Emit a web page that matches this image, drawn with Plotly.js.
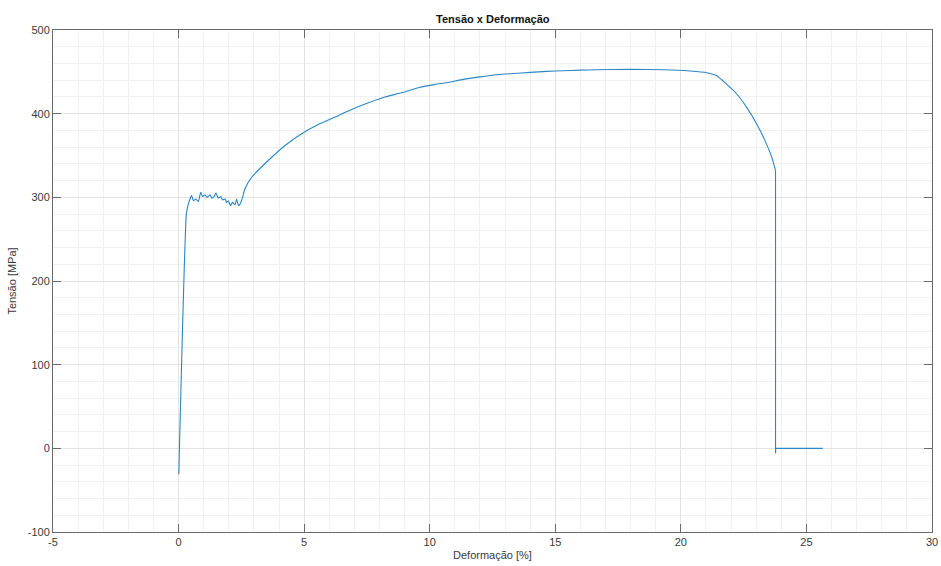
<!DOCTYPE html>
<html>
<head>
<meta charset="utf-8">
<script src="https://cdn.plot.ly/plotly-3.0.1.min.js"></script>
<style>html,body{margin:0;padding:0;background:#fff;}#chart{width:941px;height:566px;}</style>
</head>
<body>
<div id="chart"></div>
<script>
// Strain (%) and stress (MPa)
var strain = [0.01, 0.31, 0.38, 0.52, 0.59, 0.69, 0.79, 0.88, 0.96, 1.05, 1.14, 1.25, 1.33, 1.41, 1.49, 1.58, 1.68, 1.75, 1.85, 1.91, 1.98, 2.07, 2.15, 2.25, 2.31, 2.39, 2.45, 2.55, 2.64, 2.91, 3.57, 4.24, 4.90, 5.56, 6.23, 6.89, 7.56, 8.22, 8.88, 9.55, 10.21, 10.68, 11.34, 12.0, 12.67, 13.33, 14.0, 14.66, 15.32, 15.99, 16.65, 17.98, 19.3, 20.37, 21.03, 21.43, 21.83, 22.23, 22.62, 23.02, 23.35, 23.62, 23.77, 23.77, 23.78, 25.65];
var stress = [-31, 280, 291, 302, 296, 298, 295, 306, 301, 303, 300, 303, 299, 301, 305, 299, 301, 297, 298, 294, 296, 290, 294, 291, 298, 290, 292, 300, 310, 324, 344, 362, 376, 387, 396, 405, 413, 420, 425, 431, 435, 437, 441, 444, 446.6, 448, 449.3, 450.5, 451.3, 452, 452.5, 452.9, 452.5, 451, 449, 445.4, 435, 423.5, 407.5, 387.7, 367.8, 347.8, 332, -6, 0, 0];
// index where the specimen breaks (start of the vertical drop)
var breakIndex = 62;

var xTickVals = [-5, 0, 5, 10, 15, 20, 25, 30];
var xTickText = ["-5", "0", "5", "10", "15", "20", "25", "30"];
var yTickVals = [-100, 0, 100, 200, 300, 400, 500];
var yTickText = ["-100", "0", "100", "200", "300", "400", "500"];

var axisCommon = {
  showline: true, linecolor: '#6a6a6a', linewidth: 1, mirror: 'ticks',
  ticks: 'inside', ticklen: 8, tickcolor: '#6a6a6a', tickwidth: 1,
  showgrid: true, gridcolor: '#e3e3e3', gridwidth: 1,
  zeroline: false, tickmode: 'array',
  tickfont: {family: 'Liberation Sans, Arial, sans-serif', size: 11, color: '#3a3a3a'}
};

var layout = {
  width: 941, height: 566,
  margin: {l: 53, r: 9, t: 30, b: 34},
  paper_bgcolor: '#ffffff', plot_bgcolor: '#ffffff',
  showlegend: false,
  title: {text: '<b>Tensão x Deformação</b>', x: 0.5237, xanchor: 'center', y: 0.966, yanchor: 'middle',
          font: {family: 'Liberation Sans, Arial, sans-serif', size: 11, color: '#111'}},
  xaxis: Object.assign({}, axisCommon, {
    range: [-5, 30], tickvals: xTickVals, ticktext: xTickText,
    minor: {dtick: 1, showgrid: true, gridcolor: '#f1f1f1', gridwidth: 1, ticks: ''},
    title: {text: 'Deformação [%]', standoff: 4, font: {family: 'Liberation Sans, Arial, sans-serif', size: 11, color: '#3a3a3a'}}
  }),
  yaxis: Object.assign({}, axisCommon, {
    range: [-100, 500], tickvals: yTickVals, ticktext: yTickText,
    minor: {dtick: 20, showgrid: true, gridcolor: '#f1f1f1', gridwidth: 1, ticks: ''},
    title: {text: 'Tensão [MPa]', standoff: 8, font: {family: 'Liberation Sans, Arial, sans-serif', size: 11, color: '#3a3a3a'}}
  })
};

var lineColor = '#2a86c4';
var traceCurve = {
  x: strain.slice(0, breakIndex + 1), y: stress.slice(0, breakIndex + 1),
  type: 'scatter', mode: 'lines',
  line: {color: lineColor, width: 1.1, shape: 'spline', smoothing: 0.5}
};
var traceBreak = {
  x: strain.slice(breakIndex), y: stress.slice(breakIndex),
  type: 'scatter', mode: 'lines',
  line: {color: lineColor, width: 1.1}
};

Plotly.newPlot('chart', [traceCurve, traceBreak], layout, {displayModeBar: false, staticPlot: true});
</script>
</body>
</html>
